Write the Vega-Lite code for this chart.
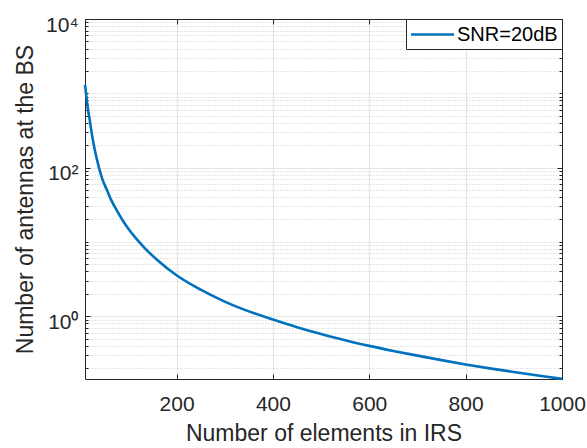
{
  "$schema": "https://vega.github.io/schema/vega-lite/v6.json",
  "width": 477,
  "height": 360,
  "autosize": {"type": "none"},
  "padding": {"left": 85, "top": 19, "right": 25, "bottom": 69},
  "config": {
    "font": "Liberation Sans",
    "view": {"stroke": null},
    "axis": {
      "domainColor": "#262626",
      "domainWidth": 1,
      "tickColor": "#262626",
      "tickWidth": 1,
      "labelColor": "#262626",
      "labelFontSize": 21,
      "titleColor": "#262626",
      "titleFontSize": 23,
      "titleFontWeight": "normal",
      "gridColor": "#e3e3e3",
      "gridWidth": 1
    }
  },
  "data": {
    "values": [
      {"N": 10, "M": 1300, "series": "SNR=20dB"},
      {"N": 13, "M": 900, "series": "SNR=20dB"},
      {"N": 16, "M": 620, "series": "SNR=20dB"},
      {"N": 19, "M": 470, "series": "SNR=20dB"},
      {"N": 24, "M": 290, "series": "SNR=20dB"},
      {"N": 29, "M": 190, "series": "SNR=20dB"},
      {"N": 34, "M": 135, "series": "SNR=20dB"},
      {"N": 39, "M": 100, "series": "SNR=20dB"},
      {"N": 46, "M": 70, "series": "SNR=20dB"},
      {"N": 56, "M": 49, "series": "SNR=20dB"},
      {"N": 64, "M": 37, "series": "SNR=20dB"},
      {"N": 74, "M": 28, "series": "SNR=20dB"},
      {"N": 87, "M": 20, "series": "SNR=20dB"},
      {"N": 100, "M": 15, "series": "SNR=20dB"},
      {"N": 115, "M": 11.3, "series": "SNR=20dB"},
      {"N": 136, "M": 8.0, "series": "SNR=20dB"},
      {"N": 160, "M": 5.7, "series": "SNR=20dB"},
      {"N": 200, "M": 3.55, "series": "SNR=20dB"},
      {"N": 250, "M": 2.27, "series": "SNR=20dB"},
      {"N": 300, "M": 1.57, "series": "SNR=20dB"},
      {"N": 350, "M": 1.16, "series": "SNR=20dB"},
      {"N": 400, "M": 0.9, "series": "SNR=20dB"},
      {"N": 450, "M": 0.71, "series": "SNR=20dB"},
      {"N": 500, "M": 0.575, "series": "SNR=20dB"},
      {"N": 550, "M": 0.475, "series": "SNR=20dB"},
      {"N": 600, "M": 0.398, "series": "SNR=20dB"},
      {"N": 650, "M": 0.34, "series": "SNR=20dB"},
      {"N": 700, "M": 0.294, "series": "SNR=20dB"},
      {"N": 750, "M": 0.256, "series": "SNR=20dB"},
      {"N": 800, "M": 0.224, "series": "SNR=20dB"},
      {"N": 850, "M": 0.198, "series": "SNR=20dB"},
      {"N": 900, "M": 0.177, "series": "SNR=20dB"},
      {"N": 950, "M": 0.159, "series": "SNR=20dB"},
      {"N": 1000, "M": 0.143, "series": "SNR=20dB"}
    ]
  },
  "layer": [
    {
      "mark": {"type": "line", "strokeWidth": 2.6, "interpolate": "monotone"},
      "encoding": {
        "x": {
          "field": "N", "type": "quantitative",
          "scale": {"domain": [10, 1000], "nice": false, "zero": false},
          "axis": {
            "orient": "bottom",
            "title": "Number of elements in IRS",
            "values": [200, 400, 600, 800, 1000],
            "format": "d",
            "grid": true,
            "tickSize": -5,
            "labelPadding": 19,
            "labelFlush": false,
            "titlePadding": 8
          }
        },
        "y": {
          "field": "M", "type": "quantitative",
          "scale": {"type": "log", "domain": [0.1425, 10000], "nice": false},
          "axis": {
            "orient": "left",
            "title": "Number of antennas at the BS",
            "values": [0.2,0.3,0.4,0.5,0.6,0.7,0.8,0.9,1,2,3,4,5,6,7,8,9,10,20,30,40,50,60,70,80,90,100,200,300,400,500,600,700,800,900,1000,2000,3000,4000,5000,6000,7000,8000,9000,10000],
            "labelExpr": "datum.value == 1 ? '10⁰' : datum.value == 100 ? '10²' : datum.value == 10000 ? '10⁴' : ''",
            "grid": true,
            "gridDash": {"condition": {"test": "datum.value == 1 || datum.value == 100 || datum.value == 10000", "value": []}, "value": [1, 2]},
            "gridColor": {"condition": {"test": "datum.value == 1 || datum.value == 100 || datum.value == 10000", "value": "#e3e3e3"}, "value": "#cccccc"},
            "tickSize": {"condition": {"test": "datum.value == 1 || datum.value == 100 || datum.value == 10000", "value": -5}, "value": -3},
            "labelPadding": 12,
            "labelOffset": 6,
            "labelFlush": false,
            "labelOverlap": false,
            "titlePadding": 8
          }
        },
        "color": {
          "field": "series", "type": "nominal",
          "scale": {"range": ["#0072BD"]},
          "legend": {
            "orient": "top-right",
            "offset": 0,
            "title": null,
            "symbolType": "M-2.15,0H2.15",
            "symbolSize": 400,
            "symbolStrokeWidth": 2.6,
            "symbolOffset": 11,
            "labelFontSize": 20,
            "labelColor": "#000000",
            "labelOffset": 13,
            "padding": 4,
            "strokeColor": "#262626",
            "fillColor": "#ffffff",
            "cornerRadius": 0
          }
        }
      }
    },
    {
      "mark": {"type": "line", "opacity": 0},
      "encoding": {
        "x": {
          "field": "N", "type": "quantitative",
          "scale": {"domain": [10, 1000], "nice": false, "zero": false},
          "axis": {"orient": "top", "title": null, "values": [200, 400, 600, 800, 1000], "labels": false, "grid": false, "tickSize": -5}
        },
        "y": {
          "field": "M", "type": "quantitative",
          "scale": {"type": "log", "domain": [0.1425, 10000], "nice": false},
          "axis": {
            "orient": "right", "title": null, "labels": false, "grid": false,
            "values": [0.2,0.3,0.4,0.5,0.6,0.7,0.8,0.9,1,2,3,4,5,6,7,8,9,10,20,30,40,50,60,70,80,90,100,200,300,400,500,600,700,800,900,1000,2000,3000,4000,5000,6000,7000,8000,9000,10000],
            "tickSize": {"condition": {"test": "datum.value == 1 || datum.value == 100 || datum.value == 10000", "value": -5}, "value": -3}
          }
        }
      }
    }
  ],
  "resolve": {"axis": {"x": "independent", "y": "independent"}}
}
